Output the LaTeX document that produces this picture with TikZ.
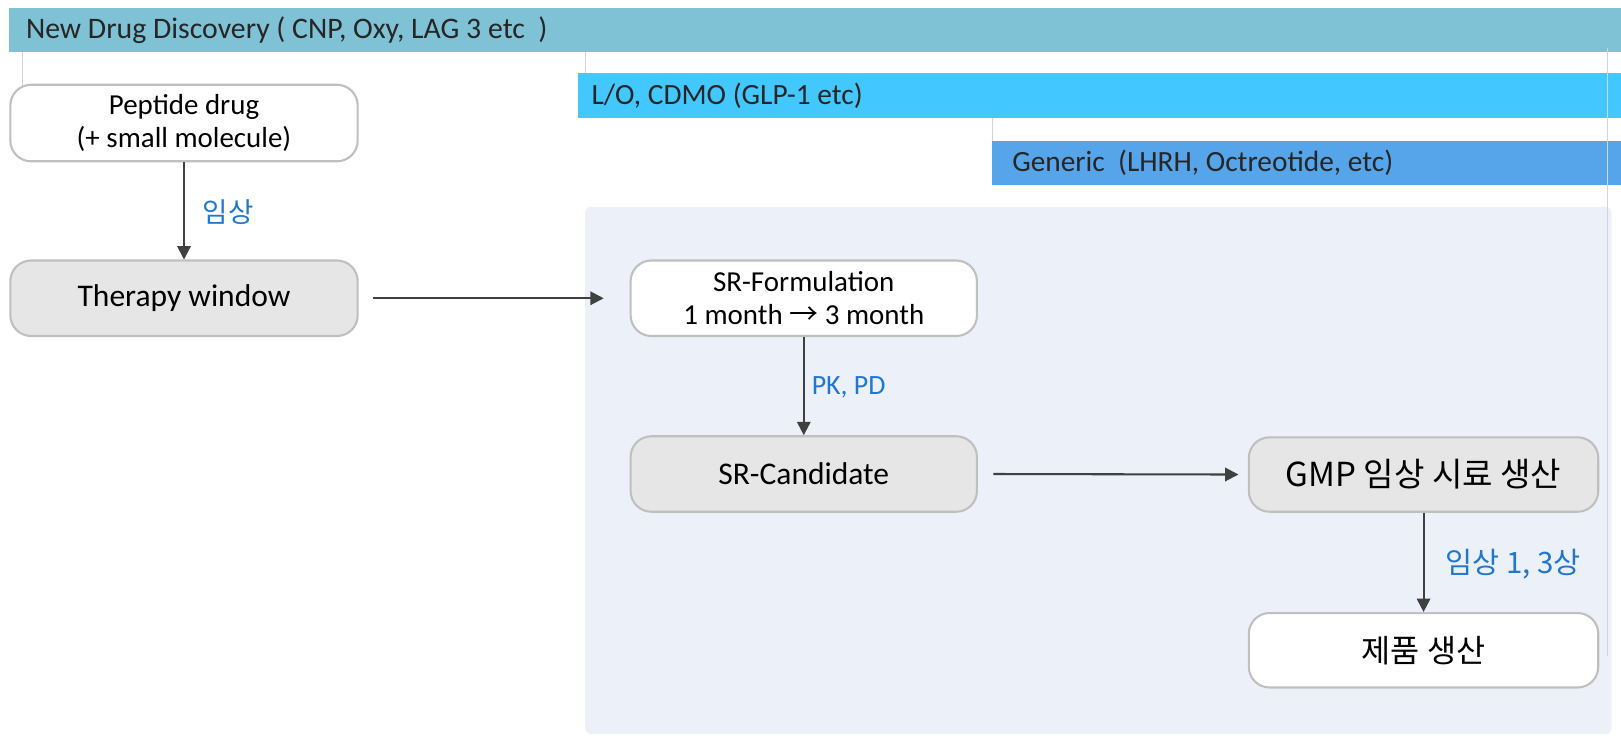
\documentclass[tikz,border=0pt]{standalone}
\usepackage{fontspec}
\setmainfont{Carlito}
\newfontfamily\kr{Noto Sans CJK KR}
\usetikzlibrary{arrows.meta}
\definecolor{barA}{HTML}{7FC1D5}
\definecolor{barB}{HTML}{42C8FF}
\definecolor{barC}{HTML}{56A4EA}
\definecolor{panelc}{HTML}{ECF0F8}
\definecolor{boxgray}{HTML}{E6E6E6}
\definecolor{boxline}{HTML}{BFBFBF}
\definecolor{arrc}{HTML}{404040}
\definecolor{lblc}{HTML}{1F77D0}
\definecolor{bartext}{HTML}{262626}
\definecolor{thinc}{HTML}{D4D4D4}
\tikzset{
  flowbox/.style={draw=boxline, line width=2pt, rounded corners=20pt, minimum width=#1, minimum height=73pt, align=center, inner sep=0pt, text=black},
  whitebox/.style={flowbox=#1, fill=white, font=\fontsize{28}{32}\selectfont},
  graybox/.style={flowbox=#1, fill=boxgray, font=\fontsize{30.5}{34}\selectfont},
  arr/.style={draw=arrc, line width=2pt, -{Triangle[length=13pt,width=13pt]}},
  lbl/.style={text=lblc, font=\fontsize{27}{30}\selectfont, anchor=west, inner sep=0pt},
  bartxt/.style={text=bartext, font=\fontsize{28.4}{31}\selectfont, anchor=west, inner sep=0pt},
  thin/.style={draw=thinc, line width=1pt}
}
\begin{document}
\begin{tikzpicture}[x=1pt,y=-1pt]
\useasboundingbox (0,0) rectangle (1568,713);
% panel
\fill[panelc, rounded corners=6pt] (566,200) rectangle (1559,710);
% bars
\fill[barA] (9,8) rectangle (1568,50);
\node[bartxt, font=\fontsize{28.8}{31}\selectfont] (ndd) at (25,29.5) {New Drug Discovery ( CNP, Oxy, LAG 3 etc~ )};
\fill[barB] (559,71) rectangle (1568,114);
\node[bartxt] (lo) at (572,93) {L/O, CDMO (GLP-1 etc)};
\fill[barC] (960,136) rectangle (1568,179);
\node[bartxt] (gen) at (979,157.5) {Generic~ (LHRH, Octreotide, etc)};
% thin guide lines
\coordinate (g1a) at (22,50); \coordinate (g1b) at (22,83);
\coordinate (g2a) at (566,50); \coordinate (g2b) at (566,71);
\coordinate (g3a) at (960,114); \coordinate (g3b) at (960,136);
\coordinate (g4a) at (1555,46); \coordinate (g4b) at (1555,635);
\draw[thin] (g1a) -- (g1b);
\draw[thin] (g2a) -- (g2b);
\draw[thin] (g3a) -- (g3b);
\draw[thin] (g4a) -- (g4b);
% boxes
\node[whitebox=336pt, minimum height=74pt] (pep) at (178,119) {Peptide drug\\(+ small molecule)};
\node[graybox=336pt] (ther) at (178,288.5) {Therapy window};
\node[whitebox=335pt] (srf) at (777.5,288.5) {SR-Formulation\\1 month {\kr →} 3 month};
\node[graybox=335pt] (src) at (777.5,458.5) {SR-Candidate};
\node[graybox=338pt, minimum height=72pt, font=\fontsize{32}{34}\kr] (gmp) at (1377,459) {GMP 임상 시료 생산};
\node[whitebox=338pt, minimum height=72pt, font=\fontsize{30.6}{34}\kr] (prod) at (1377,629) {제품 생산};
% connectors
\draw[arr] (pep) -- (ther);
\node[lbl, font=\fontsize{26.7}{30}\kr] (l1) at (196,205) {임상};
\draw[arr] ([xshift=14pt]ther.east) -- ([xshift=-25pt]srf.west);
\draw[arr] (srf) -- (src);
\node[lbl] (l2) at (785,375) {PK, PD};
\draw[arr] ([xshift=15pt]src.east) -- ([xshift=-9pt]gmp.west);
\draw[arr] (gmp) -- (prod);
\node[lbl, font=\fontsize{28.5}{30}\kr] (l3) at (1398,546) {임상 1, 3상};
\end{tikzpicture}
\end{document}
